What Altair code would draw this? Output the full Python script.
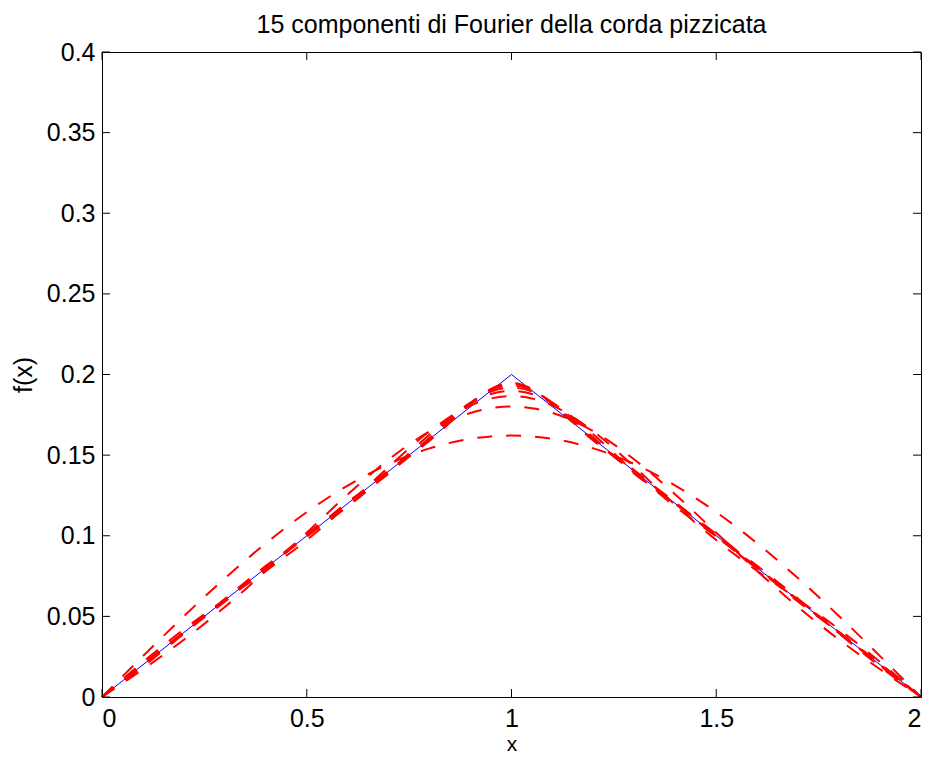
import altair as alt
import pandas as pd

# ---- data ----
title_text = "15 componenti di Fourier della corda pizzicata"

# triangle (pizzicata string)
tri_x = [0.0, 1.0, 2.0]
tri_y = [0.0, 0.2, 0.0]

# partial Fourier sums, sampled on the left half (curves are symmetric about x = 1)
x_half = [0.0, 0.1, 0.2, 0.3, 0.4, 0.5, 0.6, 0.7, 0.8, 0.9, 0.95, 1.0]
s1 = [0, 0.02536, 0.05010, 0.07360, 0.09529, 0.11463, 0.13115, 0.14444, 0.15418, 0.16011, 0.16161, 0.16211]
s3 = [0, 0.01718, 0.03552, 0.05581, 0.07816, 0.10189, 0.12558, 0.14726, 0.16476, 0.17616, 0.17913, 0.18012]
s5 = [0, 0.02177, 0.04201, 0.06039, 0.07816, 0.09731, 0.11910, 0.14268, 0.16476, 0.18075, 0.18511, 0.18660]
s7 = [0, 0.01882, 0.03933, 0.06091, 0.08130, 0.09965, 0.11808, 0.13941, 0.16282, 0.18225, 0.18793, 0.18991]
s9 = [0, 0.02080, 0.03995, 0.05913, 0.08013, 0.10106, 0.11970, 0.13850, 0.16091, 0.18256, 0.18946, 0.19191]
s11 = [0, 0.01947, 0.04036, 0.06032, 0.07934, 0.10012, 0.12078, 0.13911, 0.15964, 0.18235, 0.19033, 0.19325]
s13 = [0, 0.02033, 0.03959, 0.06017, 0.08025, 0.09944, 0.12048, 0.14006, 0.15908, 0.18192, 0.19083, 0.19421]
s15 = [0, 0.01982, 0.04031, 0.05966, 0.08025, 0.09995, 0.11976, 0.14057, 0.15908, 0.18141, 0.19110, 0.19493]
curves = {"1": s1, "3": s3, "5": s5, "7": s7, "9": s9, "11": s11, "13": s13, "15": s15}

x_ticks = [0, 0.5, 1, 1.5, 2]
y_ticks = [0, 0.05, 0.1, 0.15, 0.2, 0.25, 0.3, 0.35, 0.4]

# ---- build tables ----
tri_df = pd.DataFrame({"x": tri_x, "y": tri_y, "i": range(len(tri_x))})

rows = []
for name, vals in curves.items():
    xs = x_half + [2 - v for v in reversed(x_half[:-1])]
    ys = vals + list(reversed(vals[:-1]))
    for i, (xv, yv) in enumerate(zip(xs, ys)):
        rows.append({"x": xv, "y": yv, "curve": name, "i": i})
four_df = pd.DataFrame(rows)

xt_df = pd.DataFrame({"x": x_ticks})
yt_df = pd.DataFrame({"y": y_ticks})

W, H = 819, 645
FONT = "Liberation Sans"
FS = 25

xscale = alt.Scale(domain=[0, 2], nice=False, zero=False)
yscale = alt.Scale(domain=[0, 0.4], nice=False, zero=False)

xaxis = alt.Axis(values=x_ticks, ticks=False, domain=False, grid=False,
                 labelPadding=9, title="x", titleBaseline="alphabetic", titleY=53,
                 titleFontSize=21,
                 labelExpr="format(datum.value, '~g')")
yaxis = alt.Axis(values=y_ticks, ticks=False, domain=False, grid=False,
                 labelPadding=7, title="f(x)", titlePadding=10,
                 labelExpr="format(datum.value, '~g')")

tri = alt.Chart(tri_df).mark_line(color="#0000ff", strokeWidth=1).encode(
    x=alt.X("x:Q", scale=xscale, axis=xaxis),
    y=alt.Y("y:Q", scale=yscale, axis=yaxis),
    order="i:Q",
)

four = alt.Chart(four_df).mark_line(
    color="#ff0000", strokeWidth=2, strokeDash=[15, 14], interpolate="monotone"
).encode(
    x=alt.X("x:Q", scale=xscale),
    y=alt.Y("y:Q", scale=yscale),
    detail="curve:N",
    order="i:Q",
)

tick_len = 8
xt_bottom = alt.Chart(xt_df).mark_rule(color="black", strokeWidth=1).encode(
    x=alt.X("x:Q", scale=xscale), y=alt.value(H), y2=alt.value(H - tick_len))
xt_top = alt.Chart(xt_df).mark_rule(color="black", strokeWidth=1).encode(
    x=alt.X("x:Q", scale=xscale), y=alt.value(0), y2=alt.value(tick_len))
yt_left = alt.Chart(yt_df).mark_rule(color="black", strokeWidth=1).encode(
    y=alt.Y("y:Q", scale=yscale), x=alt.value(0), x2=alt.value(tick_len))
yt_right = alt.Chart(yt_df).mark_rule(color="black", strokeWidth=1).encode(
    y=alt.Y("y:Q", scale=yscale), x=alt.value(W), x2=alt.value(W - tick_len))

chart = alt.layer(tri, four, xt_bottom, xt_top, yt_left, yt_right).properties(
    width=W, height=H,
    background="white",
    title=alt.TitleParams(title_text, font=FONT, fontSize=FS, fontWeight="normal",
                          color="black", offset=2, anchor="middle"),
    autosize=alt.AutoSizeParams(type="none"),
    padding={"left": 94, "top": 44, "right": 7, "bottom": 58},
).configure_view(stroke="black", strokeWidth=1).configure_axis(
    labelFont=FONT, labelFontSize=FS, labelColor="black",
    titleFont=FONT, titleFontSize=FS, titleColor="black", titleFontWeight="normal",
)

chart.save("out.html", embed_options={"renderer": "svg", "actions": False})
